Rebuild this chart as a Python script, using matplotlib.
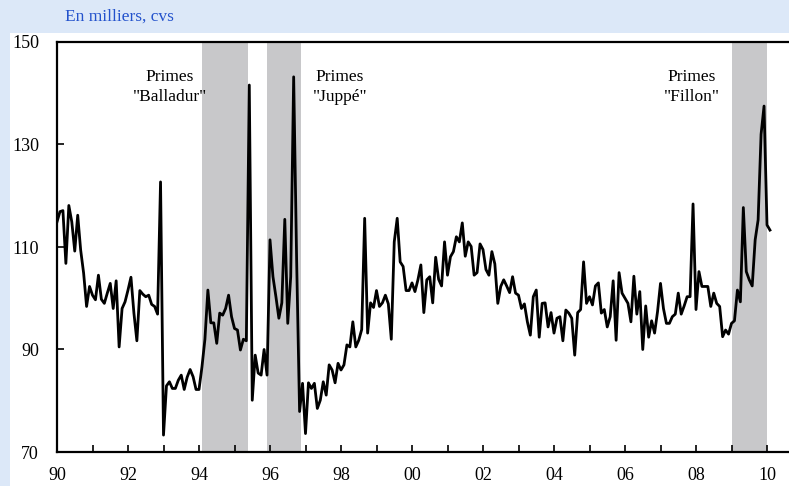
import numpy as np
import matplotlib
matplotlib.use("Agg")
import matplotlib.pyplot as plt
from matplotlib.patches import Rectangle

# monthly series, thousands, seasonally adjusted (cvs), Jan 1990 onwards
vals_1990_1994 = [114.9, 116.9, 117.1, 106.8, 118.1, 114.9, 109.2, 116.2, 109.4, 104.9, 98.4, 102.3,
                  100.6, 99.7, 104.5, 99.8, 99.0, 101.0, 102.9, 98.0, 103.4, 90.5, 98.0, 99.3,
                  101.6, 104.1, 97.1, 91.7, 101.5, 100.8, 100.3, 100.6, 98.8, 98.4, 96.9, 122.7,
                  73.3, 82.9, 83.7, 82.4, 82.4, 84.0, 85.0, 82.2, 84.6, 86.1, 84.7, 82.2,
                  82.2, 86.6, 92.0, 101.6, 95.2, 95.2, 91.2, 97.1, 96.7, 98.0, 100.6, 96.4]
vals_1995_1999 = [94.1, 93.8, 89.9, 92.0, 91.7, 141.6, 80.1, 88.9, 85.4, 85.0, 90.0, 85.0,
                  111.4, 104.2, 100.3, 96.1, 99.1, 115.4, 95.1, 104.2, 143.2, 107.5, 77.9, 83.4,
                  73.6, 83.5, 82.4, 83.4, 78.5, 80.1, 83.7, 81.1, 87.0, 86.0, 83.5, 87.3,
                  86.0, 87.0, 90.9, 90.5, 95.4, 90.5, 91.8, 93.9, 115.6, 93.2, 99.1, 98.2,
                  101.5, 98.4, 99.1, 100.6, 98.9, 92.0, 111.0, 115.6, 107.1, 106.2, 101.5, 101.5]
vals_2000_2004 = [103.0, 101.3, 103.6, 106.5, 97.2, 103.6, 104.2, 99.1, 108.0, 103.7, 102.4, 111.0,
                  104.5, 108.1, 109.1, 112.0, 111.0, 114.7, 108.2, 111.0, 110.1, 104.5, 105.0, 110.6,
                  109.5, 105.6, 104.5, 109.1, 106.7, 99.0, 102.3, 103.6, 102.4, 101.1, 104.2, 101.0,
                  100.6, 98.0, 98.9, 95.4, 92.8, 100.3, 101.6, 92.4, 99.0, 99.1, 94.4, 97.2,
                  93.2, 96.1, 96.4, 91.7, 97.7, 97.1, 96.1, 88.9, 97.2, 97.8, 107.1, 99.0]
vals_2005_2010 = [100.3, 98.7, 102.4, 103.0, 97.1, 97.8, 94.4, 96.4, 103.4, 91.8, 105.0, 101.0,
                  100.0, 99.0, 95.4, 104.3, 96.9, 101.3, 90.0, 98.5, 92.4, 95.6, 93.2, 97.4,
                  102.9, 98.0, 95.1, 95.1, 96.4, 96.9, 101.0, 96.9, 98.5, 100.3, 100.3, 118.4,
                  97.8, 105.2, 102.3, 102.3, 102.3, 98.4, 101.0, 99.0, 98.4, 92.5, 93.8, 93.0,
                  95.1, 95.6, 101.6, 99.3, 117.7, 105.2, 103.6, 102.4, 111.4, 115.3, 132.0, 137.5,
                  114.3, 113.3]

values = np.array(vals_1990_1994 + vals_1995_1999 + vals_2000_2004 + vals_2005_2010)
start_year = 1990
dates = start_year + np.arange(len(values)) / 12.0

# bonus schemes (start, end in decimal years) and their labels
schemes = [(1994.08, 1995.38), (1995.92, 1996.87), (2009.0, 2010.0)]
labels = ['Primes\n"Balladur"', 'Primes\n"Juppé"', 'Primes\n"Fillon"']
label_x = [1993.18, 1997.97, 2007.89]

yticks = [70, 90, 110, 130, 150]
xticks_major = np.arange(1990, 2011, 2)
xtick_labels = ["%02d" % (y % 100) for y in xticks_major]

plt.rcParams['font.family'] = ['Liberation Serif', 'DejaVu Serif']

fig = plt.figure(figsize=(7.89, 4.86), dpi=100)
fig.patch.set_facecolor("#dce8f8")
# white panel behind the chart
fig.patches.append(Rectangle((10 / 789, 0), 1, (486 - 33) / 486, transform=fig.transFigure,
                             facecolor="white", edgecolor="none", zorder=-10))
fig.text(65 / 789, 1 - 17 / 486, "En milliers, cvs", color="#2352cc", fontsize=12.5, va="center")

ax = fig.add_axes([57 / 789, 34 / 486, 732 / 789, (452 - 42) / 486])
ax.set_facecolor("white")
ax.set_zorder(5)

for (a, b) in schemes:
    ax.axvspan(a, b, color="#c8c8ca", lw=0, zorder=1)

ax.plot(dates, values, color="black", lw=2.0, zorder=3)

for lx, lab in zip(label_x, labels):
    ax.text(lx, 141.2, lab, ha="center", va="center", fontsize=12.5, linespacing=1.35, zorder=4)

ax.set_xlim(1990, 1990 + 732 / 35.5)
ax.set_ylim(70, 150)
ax.set_yticks(yticks)
ax.set_xticks(xticks_major)
ax.set_xticklabels(xtick_labels)
ax.set_xticks(np.arange(1991, 2011, 2), minor=True)
ax.tick_params(axis="both", which="both", direction="in", length=5, width=1.2,
               labelsize=13, color="black")
ax.tick_params(axis="x", pad=11)
ax.tick_params(axis="y", pad=13)

ax.spines["right"].set_visible(False)
for s in ["left", "bottom", "top"]:
    ax.spines[s].set_linewidth(1.6)

fig.savefig("out.png", dpi=100, facecolor=fig.get_facecolor())
